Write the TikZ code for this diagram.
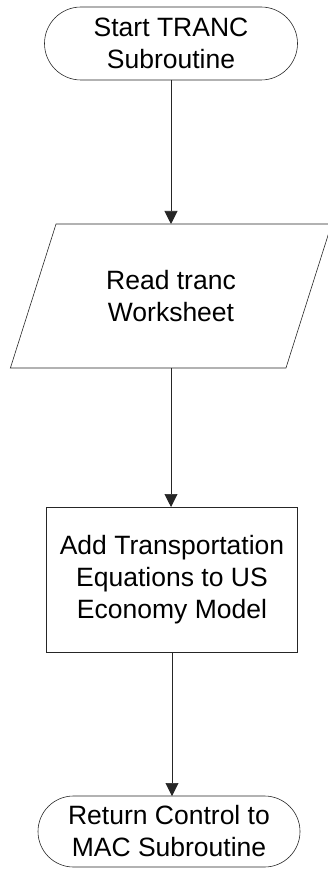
\documentclass[tikz,border=0pt]{standalone}
\usepackage{fontspec}
\setmainfont{Liberation Sans}
\usetikzlibrary{arrows.meta}
\usetikzlibrary{shapes.misc,shapes.geometric}

\begin{document}
\begin{tikzpicture}
			[x=1pt,y=-1pt,font=\fontsize{26.5}{32}\selectfont,
			every node/.style={draw=black!85,line width=0.6pt,align=center,inner sep=0pt,outer sep=0pt},
			term/.style={rounded rectangle,minimum width=253pt,minimum height=73pt},
			io/.style={trapezium,trapezium stretches=true,trapezium left angle=63.43,trapezium right angle=116.57,minimum width=322pt,minimum height=144pt},
			proc/.style={rectangle,minimum width=251pt,minimum height=145pt},
			flow/.style={draw=black!85,line width=0.6pt,-{Triangle[length=13pt,width=13pt]}}]
			\useasboundingbox (0,0) rectangle (328,869);
			\node[term] (start) at (171,43.5) {Start TRANC\\Subroutine};
			\node[io] (read) at (171,296) {Read tranc\\Worksheet};
			\node[proc] (model) at (172,579.5) {Add Transportation\\Equations to US\\Economy Model};
			\node[term,minimum width=262pt,minimum height=71pt] (ret) at (169,831.5) {Return Control to\\MAC Subroutine};
			
			\foreach \from/\to in 
			{start/read, read/model, model/ret}
			\draw[flow] (\from.south) -- (\from.south |- \to.north);
			\end{tikzpicture}
\end{document}
